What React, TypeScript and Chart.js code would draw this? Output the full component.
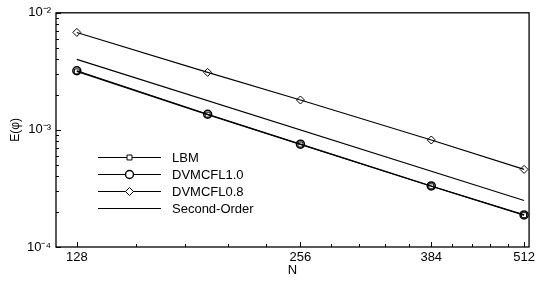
import React, { useEffect, useRef } from 'react';
import { Chart, registerables } from 'chart.js';

Chart.register(...registerables);

// ---- data ----
const N = [128, 192, 256, 384, 512];
const LBM = [3.16e-3, 1.35e-3, 7.5e-4, 3.3e-4, 1.87e-4];
const DVMCFL10 = [3.2e-3, 1.36e-3, 7.55e-4, 3.32e-4, 1.88e-4];
const DVMCFL08 = [6.8e-3, 3.1e-3, 1.8e-3, 8.2e-4, 4.6e-4];
const SECOND_N = [128, 512];
const SECOND_ORDER = [4.0e-3, 2.5e-4];

const SERIES_NAMES = ['LBM', 'DVMCFL1.0', 'DVMCFL0.8', 'Second-Order'];
const SERIES_MARKERS = ['rect', 'circle', 'rectRot', 'none'];

const X_TICKS = [128, 153.6, 179.2, 204.8, 230.4, 256, 281.6, 307.2, 332.8, 358.4, 384, 409.6, 435.2, 460.8, 486.4, 512];
const X_LABELS = [128, 256, 384, 512];
const Y_TICKS = [
  1e-4, 2e-4, 3e-4, 4e-4, 5e-4, 6e-4, 7e-4, 8e-4, 9e-4,
  1e-3, 2e-3, 3e-3, 4e-3, 5e-3, 6e-3, 7e-3, 8e-3, 9e-3, 1e-2,
];
const Y_LABEL_VALUES = [1e-4, 1e-3, 1e-2];
const Y_LABEL_TEXT = ['10⁻⁴', '10⁻³', '10⁻²'];

const FONT = 'Liberation Sans, Arial, sans-serif';

function pts(xs: number[], ys: number[]) {
  return xs.map((x, i) => ({ x, y: ys[i] }));
}

function drawMarker(ctx: CanvasRenderingContext2D, style: string, x: number, y: number, r: number) {
  ctx.beginPath();
  if (style === 'rect') {
    const s = r * Math.SQRT1_2;
    ctx.rect(x - s, y - s, 2 * s, 2 * s);
  } else if (style === 'circle') {
    ctx.arc(x, y, r, 0, Math.PI * 2);
  } else if (style === 'rectRot') {
    ctx.moveTo(x, y - r);
    ctx.lineTo(x + r, y);
    ctx.lineTo(x, y + r);
    ctx.lineTo(x - r, y);
    ctx.closePath();
  } else {
    return;
  }
  ctx.fillStyle = '#fff';
  ctx.fill();
  ctx.stroke();
}

const framePlugin = {
  id: 'frameTicks',
  afterDraw(chart: any) {
    const { ctx, chartArea } = chart;
    const { left, right, top, bottom } = chartArea;
    ctx.save();
    ctx.strokeStyle = '#000';
    ctx.lineWidth = 1.3;
    ctx.strokeRect(left, top, right - left, bottom - top);
    ctx.lineWidth = 1;
    const xs = chart.scales.x;
    X_TICKS.forEach((v) => {
      const px = Math.round(xs.getPixelForValue(v)) + 0.5;
      const len = X_LABELS.includes(v) ? 5 : 3;
      ctx.beginPath();
      ctx.moveTo(px, bottom);
      ctx.lineTo(px, bottom - len);
      ctx.stroke();
    });
    const ys = chart.scales.y;
    Y_TICKS.forEach((v) => {
      const py = Math.round(ys.getPixelForValue(v)) + 0.5;
      const len = Y_LABEL_VALUES.some((d) => Math.abs(d - v) / v < 1e-6) ? 5 : 3;
      ctx.beginPath();
      ctx.moveTo(left, py);
      ctx.lineTo(left + len, py);
      ctx.stroke();
    });
    ctx.restore();
  },
};

const legendPlugin = {
  id: 'customLegend',
  afterDraw(chart: any) {
    const { ctx, chartArea } = chart;
    const x1 = chartArea.left + 42;
    const x2 = chartArea.left + 105;
    const xm = chartArea.left + 73.5;
    const xt = chartArea.left + 116;
    ctx.save();
    ctx.strokeStyle = '#000';
    ctx.fillStyle = '#000';
    ctx.font = `13px ${FONT}`;
    ctx.textBaseline = 'middle';
    ctx.textAlign = 'left';
    SERIES_NAMES.forEach((name, i) => {
      const y = Math.round(chartArea.top + 144 + i * 17) + 0.5;
      ctx.lineWidth = 1.2;
      ctx.beginPath();
      ctx.moveTo(x1, y);
      ctx.lineTo(x2, y);
      ctx.stroke();
      const m = SERIES_MARKERS[i];
      const r = m === 'rect' ? 3.5 : 4;
      ctx.lineWidth = m === 'circle' ? 1.4 : 1;
      drawMarker(ctx, m, xm, y, r);
      ctx.fillStyle = '#000';
      ctx.fillText(name, xt, y + 1);
    });
    ctx.restore();
  },
};

export default function App() {
  const ref = useRef<HTMLCanvasElement | null>(null);

  useEffect(() => {
    if (!ref.current) return;
    const chart = new Chart(ref.current, {
      type: 'line',
      data: {
        datasets: [
          {
            label: SERIES_NAMES[3],
            data: pts(SECOND_N, SECOND_ORDER),
            borderColor: '#000',
            borderWidth: 1.1,
            pointRadius: 0,
          },
          {
            label: SERIES_NAMES[2],
            data: pts(N, DVMCFL08),
            borderColor: '#000',
            borderWidth: 1.1,
            pointStyle: 'rectRot',
            pointRadius: 4,
            pointBorderWidth: 1,
            pointBackgroundColor: 'rgba(255,255,255,0)',
            pointBorderColor: '#000',
          },
          {
            label: SERIES_NAMES[1],
            data: pts(N, DVMCFL10),
            borderColor: '#000',
            borderWidth: 1.2,
            pointStyle: 'circle',
            pointRadius: 4,
            pointBorderWidth: 1.5,
            pointBackgroundColor: 'rgba(255,255,255,0)',
            pointBorderColor: '#000',
          },
          {
            label: SERIES_NAMES[0],
            data: pts(N, LBM),
            borderColor: '#000',
            borderWidth: 1.2,
            pointStyle: 'rect',
            pointRadius: 3.5,
            pointBorderWidth: 1,
            pointBackgroundColor: 'rgba(255,255,255,0)',
            pointBorderColor: '#000',
          },
        ],
      },
      options: {
        responsive: false,
        animation: false,
        layout: { padding: { left: 0, top: 11, right: 8, bottom: 0 } },
        plugins: {
          legend: { display: false },
          tooltip: { enabled: false },
        },
        scales: {
          x: {
            type: 'logarithmic',
            min: 120,
            max: 520,
            grid: { display: false, drawTicks: false },
            border: { display: false },
            afterBuildTicks: (scale: any) => {
              scale.ticks = X_TICKS.map((v) => ({ value: v }));
            },
            afterFit: (scale: any) => {
              scale.height = 36;
            },
            ticks: {
              autoSkip: false,
              maxRotation: 0,
              padding: 3,
              color: '#000',
              font: { family: FONT, size: 13 },
              callback: (v: any) => (X_LABELS.includes(Number(v)) ? String(v) : ''),
            },
            title: {
              display: true,
              text: 'N',
              color: '#000',
              font: { family: FONT, size: 13 },
              padding: { top: 0, bottom: 5 },
            },
          },
          y: {
            type: 'logarithmic',
            min: 1e-4,
            max: 1e-2,
            grid: { display: false, drawTicks: false },
            border: { display: false },
            afterBuildTicks: (scale: any) => {
              scale.ticks = Y_TICKS.map((v) => ({ value: v }));
            },
            afterFit: (scale: any) => {
              scale.width = 56;
            },
            ticks: {
              autoSkip: false,
              padding: 5,
              color: '#000',
              font: { family: FONT, size: 13 },
              callback: (v: any) => {
                const i = Y_LABEL_VALUES.findIndex((d) => Math.abs(d - Number(v)) / d < 1e-6);
                return i >= 0 ? Y_LABEL_TEXT[i] : '';
              },
            },
            title: {
              display: true,
              text: 'E(φ)',
              color: '#000',
              font: { family: FONT, size: 12 },
              padding: { top: 8, bottom: 0 },
            },
          },
        },
      },
      plugins: [framePlugin, legendPlugin],
    } as any);
    return () => chart.destroy();
  }, []);

  return (
    <div style={{ position: 'fixed', left: 0, top: 0, width: 538, height: 283, background: '#fff' }}>
      <canvas ref={ref} width={538} height={283} style={{ display: 'block' }} />
    </div>
  );
}
